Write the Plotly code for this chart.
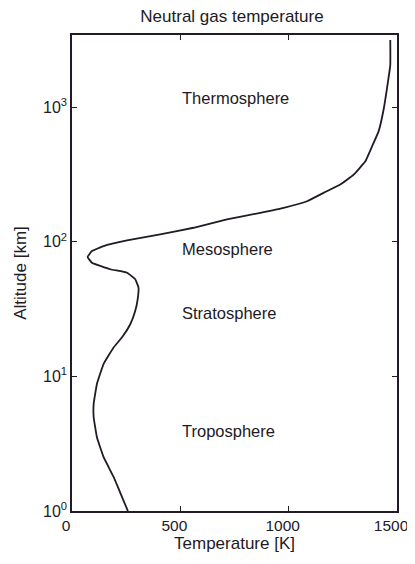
import math
import plotly.graph_objects as go

# Neutral gas temperature profile
altitude_km = [1.0, 1.27, 1.79, 2.51, 3.53, 4.97, 6.25, 8.79, 12.4, 16.4, 19.5, 24.4,
               30.7, 37.4, 45.6, 52.6, 58.9, 62.5, 69.8, 77.1, 85.3, 92.9, 102.3,
               113.5, 127.1, 146.6, 164.1, 178.6, 200.0, 230.7, 266.1, 315.5, 396.3,
               511.7, 660.7, 957.2, 1383.6, 2060.0, 3155.0]
temperature_K = [258, 231, 192, 146, 115, 100, 100, 115, 146, 192, 231, 269,
                 292, 303, 307, 292, 254, 177, 92, 72, 92, 146, 254,
                 407, 561, 715, 869, 977, 1085, 1161, 1238, 1300, 1354,
                 1385, 1415, 1438, 1454, 1469, 1469]

region_names = ["Thermosphere", "Mesosphere", "Stratosphere", "Troposphere"]
region_altitude_km = [1160, 88, 29.6, 3.96]
region_temperature_K = [500, 500, 500, 500]

x_tick_vals = [0, 500, 1000, 1500]
x_tick_text = ["0", "500", "1000", "1500"]
y_tick_vals = [1, 10, 100, 1000]
y_tick_text = ["10<sup>0</sup>", "10<sup>1</sup>", "10<sup>2</sup>", "10<sup>3</sup>"]

ink = "#221a24"
font_family = "Liberation Sans, Arial, sans-serif"

fig = go.Figure()
fig.add_trace(go.Scatter(
    x=temperature_K, y=altitude_km, mode="lines",
    line=dict(color=ink, width=1.8, shape="spline", smoothing=0.3),
    showlegend=False, hoverinfo="skip",
))

# annotations on a log axis take log10 positions
for name, z, t in zip(region_names, region_altitude_km, region_temperature_K):
    fig.add_annotation(x=t, y=math.log10(z), yref="y", xref="x", text=name, showarrow=False,
                       xanchor="left", yanchor="middle",
                       font=dict(family=font_family, size=16.5, color=ink))

# the page body adds an 8px offset, so the figure is sized to end at the window edge
fig.update_layout(
    width=407, height=548,
    margin=dict(l=64, r=18, t=27, b=45),
    paper_bgcolor="white", plot_bgcolor="white",
    font=dict(family=font_family, size=16, color=ink),
    title=dict(text="Neutral gas temperature", x=224 / 407, xanchor="center",
               y=1 - 8 / 548, yanchor="middle",
               font=dict(family=font_family, size=17, color=ink)),
)
fig.update_xaxes(
    range=[0, 1500], tickvals=x_tick_vals, ticktext=x_tick_text,
    ticks="inside", ticklen=5, tickcolor=ink, tickwidth=1,
    showline=True, linecolor=ink, linewidth=1.5, mirror="ticks",
    showgrid=False, zeroline=False, automargin=False, ticklabeloverflow="allow",
    ticklabelshift=-6,
    title=dict(text="Temperature [K]", standoff=3,
               font=dict(family=font_family, size=17, color=ink)),
    tickfont=dict(family=font_family, size=15.5, color=ink),
)
fig.update_yaxes(
    type="log", range=[0, 3.536], tickvals=y_tick_vals, ticktext=y_tick_text,
    ticks="inside", ticklen=5, tickcolor=ink, tickwidth=1,
    showline=True, linecolor=ink, linewidth=1.5, mirror="ticks",
    showgrid=False, zeroline=False, automargin=False,
    title=dict(text="Altitude [km]", standoff=12,
               font=dict(family=font_family, size=17, color=ink)),
    tickfont=dict(family=font_family, size=16, color=ink),
)

fig.write_html("out.html")
